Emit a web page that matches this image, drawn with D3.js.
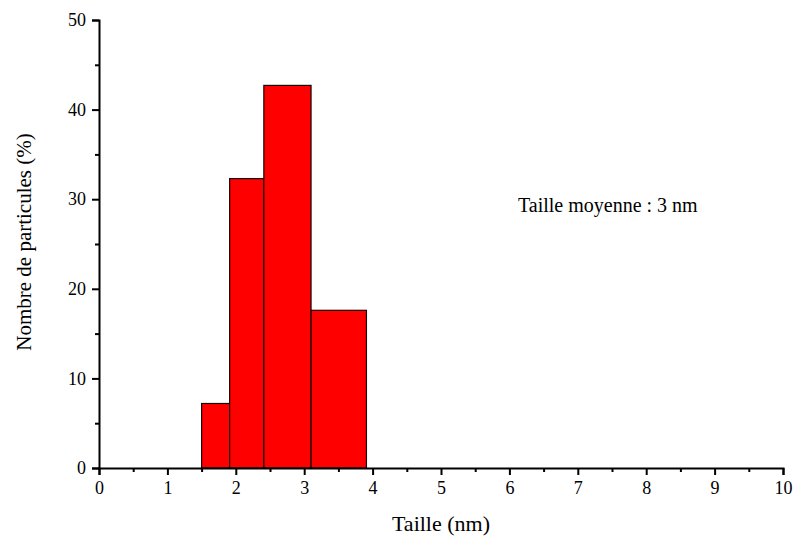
<!DOCTYPE html>
<html>
<head>
<meta charset="utf-8">
<script src="https://cdn.jsdelivr.net/npm/d3@7"></script>
<style>
  html, body { margin: 0; padding: 0; background: #fff; }
  svg { display: block; }
  text { font-family: "Liberation Serif", "DejaVu Serif", serif; fill: #000; }
</style>
</head>
<body>
<svg id="chart" width="795" height="543"></svg>
<script>
// Histogram bins: lower/upper edges (nm) and share of particles (%)
const binStart = [1.5, 1.91, 2.41, 3.1];
const binEnd   = [1.91, 2.41, 3.1, 3.91];
const percent  = [7.2, 32.3, 42.7, 17.6];

const xTicks = [0, 1, 2, 3, 4, 5, 6, 7, 8, 9, 10];
const yTicks = [0, 10, 20, 30, 40, 50];

const FONT = "'Liberation Serif', 'DejaVu Serif', serif";

const svg = d3.select("#chart");
const margin = { left: 99, right: 12, top: 20, bottom: 75 };
const W = 795, H = 543;

const x = d3.scaleLinear().domain([0, 10]).range([margin.left, W - margin.right]);
const y = d3.scaleLinear().domain([0, 50]).range([H - margin.bottom, margin.top]);

// Bars
svg.append("g")
  .selectAll("rect")
  .data(percent)
  .join("rect")
  .attr("x", (d, i) => x(binStart[i]))
  .attr("width", (d, i) => x(binEnd[i]) - x(binStart[i]))
  .attr("y", d => y(d))
  .attr("height", d => y(0) - y(d))
  .attr("fill", "#ff0000")
  .attr("stroke", "#1a0000")
  .attr("stroke-width", 1.2);

// X axis: major ticks with labels, minor ticks at half units
const xAxis = svg.append("g").attr("transform", `translate(0,${y(0)})`);
xAxis.call(d3.axisBottom(x).tickValues(xTicks).tickSize(7).tickPadding(6).tickFormat(d3.format("d")));
xAxis.append("g").call(d3.axisBottom(x)
  .tickValues(d3.range(0.5, 10, 1)).tickSize(4).tickFormat(""))
  .select(".domain").remove();

// Y axis
const yAxis = svg.append("g").attr("transform", `translate(${x(0)},0)`);
yAxis.call(d3.axisLeft(y).tickValues(yTicks).tickSize(7).tickPadding(6).tickFormat(d3.format("d")));
yAxis.append("g").call(d3.axisLeft(y)
  .tickValues(d3.range(5, 50, 10)).tickSize(4).tickFormat(""))
  .select(".domain").remove();

svg.selectAll("g").attr("font-family", FONT);
svg.selectAll(".domain").attr("stroke", "#000").attr("stroke-width", 2);
svg.selectAll(".tick line").attr("stroke", "#000").attr("stroke-width", 2);
svg.selectAll(".tick text")
  .attr("font-family", FONT)
  .attr("font-size", 18)
  .attr("fill", "#000");

// Axis titles
svg.append("text")
  .attr("x", (x(0) + x(10)) / 2)
  .attr("y", 531)
  .attr("text-anchor", "middle")
  .attr("font-family", FONT)
  .attr("font-size", 22)
  .text("Taille (nm)");

svg.append("text")
  .attr("transform", `translate(31,${(y(0) + y(50)) / 2 - 2}) rotate(-90)`)
  .attr("text-anchor", "middle")
  .attr("font-family", FONT)
  .attr("font-size", 21)
  .text("Nombre de particules (%)");

// Mean size annotation
svg.append("text")
  .attr("x", 518)
  .attr("y", 212)
  .attr("font-family", FONT)
  .attr("font-size", 20)
  .text("Taille moyenne : 3 nm");
</script>
</body>
</html>
